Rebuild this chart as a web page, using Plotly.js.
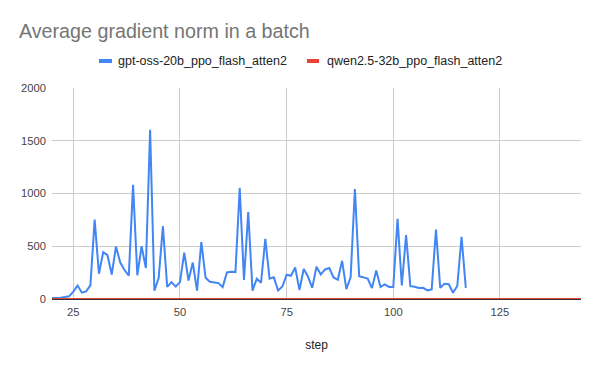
<!DOCTYPE html>
<html>
<head>
<meta charset="utf-8">
<script src="https://cdn.plot.ly/plotly-3.0.1.min.js"></script>
<style>html,body{margin:0;padding:0;background:#fff;}#chart{width:600px;height:371px;}</style>
</head>
<body>
<div id="chart"></div>
<script>
// ---- data ----
const chartTitle = "Average gradient norm in a batch";
const xTitle = "step";
const seriesNames = ["gpt-oss-20b_ppo_flash_atten2", "qwen2.5-32b_ppo_flash_atten2"];

const gptSteps = [20,21,22,23,24,25,26,27,28,29,
  30,31,32,33,34,35,36,37,38,39,
  40,41,42,43,44,45,46,47,48,49,
  50,51,52,53,54,55,56,57,58,59,
  60,61,62,63,64,65,66,67,68,69,
  70,71,72,73,74,75,76,77,78,79,
  80,81,82,83,84,85,86,87,88,89,
  90,91,92,93,94,95,96,97,98,99,
  100,101,102,103,104,105,106,107,108,109,
  110,111,112,113,114,115,116,117];
const gptValues = [10,10,12,18,25,70,128,60,72,130,
  752,240,443,415,232,497,345,275,222,1082,
  225,500,293,1603,78,199,690,115,160,117,
  160,440,175,345,80,540,202,164,158,151,
  113,252,258,255,1053,180,823,79,192,154,
  570,192,205,80,118,230,220,298,86,285,
  213,105,305,232,280,293,204,182,362,93,
  205,1043,217,207,194,103,270,114,139,114,
  114,759,128,607,122,116,104,106,82,91,
  658,106,144,140,59,123,589,106];

const qwenSteps = [20,21,22,23,24,25,26,27,28,29,
  30,31,32,33,34,35,36,37,38,39,
  40,41,42,43,44,45,46,47,48,49,
  50,51,52,53,54,55,56,57,58,59,
  60,61,62,63,64,65,66,67,68,69,
  70,71,72,73,74,75,76,77,78,79,
  80,81,82,83,84,85,86,87,88,89,
  90,91,92,93,94,95,96,97,98,99,
  100,101,102,103,104,105,106,107,108,109,
  110,111,112,113,114,115,116,117,118,119,
  120,121,122,123,124,125,126,127,128,129,
  130,131,132,133,134,135,136,137,138,139,
  140,141,142,143,144];
const qwenValues = [0.6,0.5,0.5,0.4,0.5,0.4,0.4,0.3,0.4,0.3,
  0.3,0.4,0.3,0.3,0.3,0.4,0.3,0.3,0.2,0.3,
  0.3,0.3,0.2,0.3,0.3,0.2,0.3,0.3,0.2,0.2,
  0.3,0.2,0.2,0.3,0.2,0.2,0.2,0.3,0.2,0.2,
  0.2,0.3,0.2,0.2,0.2,0.2,0.3,0.2,0.2,0.2,
  0.2,0.2,0.2,0.3,0.2,0.2,0.2,0.2,0.2,0.2,
  0.2,0.2,0.3,0.2,0.2,0.2,0.2,0.2,0.2,0.2,
  0.2,0.2,0.2,0.2,0.2,0.3,0.2,0.2,0.2,0.2,
  0.2,0.2,0.2,0.2,0.2,0.2,0.2,0.2,0.3,0.2,
  0.2,0.2,0.2,0.2,0.2,0.2,0.2,0.2,0.2,0.2,
  0.2,0.2,0.2,0.2,0.2,0.2,0.2,0.2,0.2,0.2,
  0.2,0.2,0.2,0.2,0.2,0.2,0.2,0.2,0.2,0.2,
  0.2,0.2,0.2,0.2,0.2];

const xTickVals = [25, 50, 75, 100, 125];
const yTickVals = [0, 500, 1000, 1500, 2000];

// ---- styling ----
const FONT = "Liberation Sans, Arial, sans-serif";
const BLUE = "#4285F4";
const RED = "#EA4335";
const W = 600, H = 371;
const M = {l: 52, r: 19, t: 88, b: 72};
const pw = W - M.l - M.r, ph = H - M.t - M.b;
const px2x = p => (p - M.l) / pw;
const py2y = p => (H - M.b - p) / ph;

const traces = [
  {x: gptSteps, y: gptValues, name: seriesNames[0], type: "scatter", mode: "lines",
   line: {color: BLUE, width: 2}, showlegend: false, hoverinfo: "x+y"},
  {x: qwenSteps, y: qwenValues, name: seriesNames[1], type: "scatter", mode: "lines",
   line: {color: RED, width: 2}, showlegend: false, hoverinfo: "x+y"}
];

// custom legend (short thick swatches, as in the reference)
const legY = 61;
const legendItems = [
  {sw0: 99, sw1: 112, tx: 116, color: BLUE, text: seriesNames[0]},
  {sw0: 307, sw1: 319, tx: 325, color: RED, text: seriesNames[1]}
];
const shapes = legendItems.map(it => ({
  type: "rect", xref: "paper", yref: "paper",
  x0: px2x(it.sw0), x1: px2x(it.sw1), y0: py2y(legY + 2), y1: py2y(legY - 2),
  fillcolor: it.color, line: {width: 0}
}));
const annotations = legendItems.map(it => ({
  xref: "paper", yref: "paper", x: px2x(it.tx), y: py2y(legY),
  xanchor: "left", yanchor: "middle", showarrow: false, text: it.text,
  font: {family: FONT, size: 12.5, color: "#222222"}
}));

const layout = {
  width: W, height: H,
  margin: M,
  paper_bgcolor: "#ffffff", plot_bgcolor: "#ffffff",
  font: {family: FONT, color: "#444444", size: 11},
  title: {text: chartTitle, xref: "container", yref: "container",
    x: 19 / W, xanchor: "left", y: 1 - 31 / H, yanchor: "middle",
    font: {family: FONT, size: 19.7, color: "#757575"}},
  xaxis: {range: [20, 144], tickvals: xTickVals, ticktext: xTickVals.map(String),
    showgrid: true, gridcolor: "#cccccc", gridwidth: 1, zeroline: false,
    showline: false, ticks: "", ticklabelstandoff: 5,
    tickfont: {family: FONT, size: 11.2, color: "#444444"},
    title: {text: xTitle, standoff: 23, font: {family: FONT, size: 12, color: "#222222"}}},
  yaxis: {range: [0, 2000], tickvals: yTickVals, ticktext: yTickVals.map(String),
    showgrid: true, gridcolor: "#cccccc", gridwidth: 1,
    zeroline: true, zerolinecolor: "#333333", zerolinewidth: 1,
    showline: false, ticks: "", ticklabelstandoff: 5,
    tickfont: {family: FONT, size: 11.2, color: "#444444"}},
  shapes: shapes,
  annotations: annotations,
  showlegend: false
};

Plotly.newPlot("chart", traces, layout, {displayModeBar: false, staticPlot: true});
</script>
</body>
</html>
